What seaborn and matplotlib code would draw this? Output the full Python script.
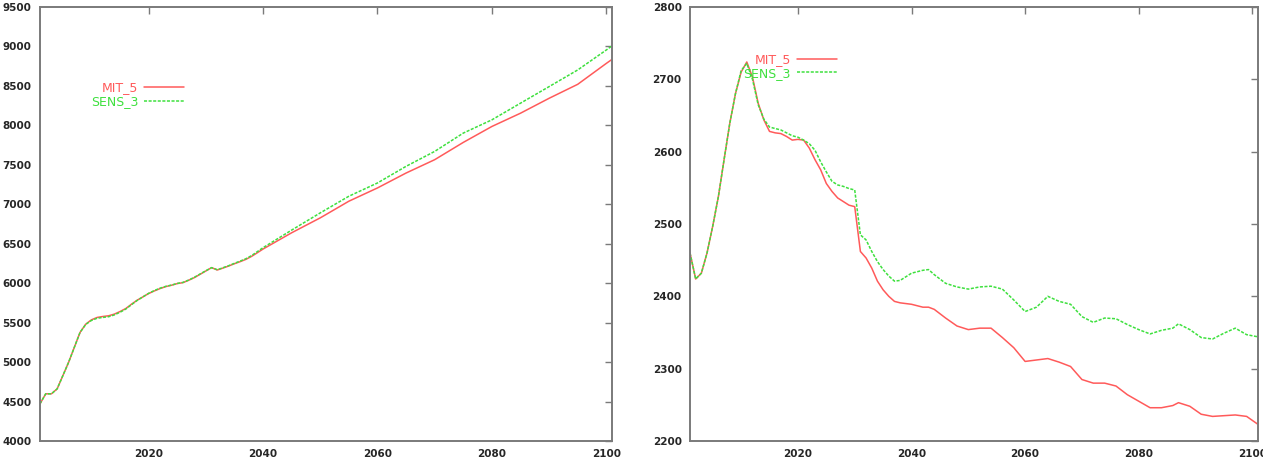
import matplotlib
matplotlib.use("Agg")
import matplotlib.pyplot as plt
import seaborn as sns
import pandas as pd

# ---------------- data: left panel ----------------
left_years = [2001, 2002, 2003, 2004, 2005, 2006, 2007, 2008, 2009, 2010,
              2011, 2012, 2013, 2014, 2015, 2016, 2017, 2018, 2019, 2020,
              2021, 2022, 2023, 2024, 2025, 2026, 2027, 2028, 2029, 2030,
              2031, 2032, 2033, 2034, 2035, 2036, 2037, 2038, 2039, 2040,
              2045, 2050, 2055, 2060, 2065, 2070, 2075, 2080, 2085, 2090,
              2095, 2100, 2101]
left_mit5 = [4471, 4598, 4598, 4661, 4829, 4997, 5187, 5376, 5481, 5536,
             5566, 5578, 5587, 5608, 5641, 5679, 5734, 5785, 5827, 5869,
             5902, 5932, 5957, 5974, 5995, 6007, 6037, 6071, 6113, 6155,
             6197, 6167, 6192, 6218, 6247, 6273, 6302, 6340, 6386, 6433,
             6639, 6828, 7039, 7207, 7396, 7565, 7784, 7986, 8154, 8343,
             8520, 8785, 8836]
left_sens3 = [4471, 4598, 4598, 4661, 4829, 4997, 5187, 5376, 5478, 5528,
              5556, 5566, 5575, 5598, 5632, 5672, 5728, 5782, 5827, 5872,
              5907, 5937, 5960, 5976, 5997, 6010, 6040, 6075, 6117, 6158,
              6197, 6170, 6196, 6222, 6252, 6280, 6310, 6350, 6400, 6450,
              6673, 6891, 7102, 7270, 7481, 7670, 7902, 8070, 8281, 8491,
              8702, 8955, 9008]

# ---------------- data: right panel ----------------
right_years = [2001, 2002, 2003, 2004, 2005, 2006, 2007, 2008, 2009, 2010,
               2011, 2012, 2013, 2014, 2015, 2016, 2017, 2018, 2019, 2020,
               2021, 2022, 2023, 2024, 2025, 2026, 2027, 2028, 2029, 2030,
               2031, 2032, 2033, 2034, 2035, 2036, 2037, 2038, 2040, 2042,
               2043, 2044, 2046, 2048, 2050, 2052, 2054, 2056, 2058, 2060,
               2062, 2064, 2066, 2068, 2070, 2072, 2074, 2076, 2078, 2080,
               2082, 2084, 2086, 2087, 2089, 2091, 2093, 2095, 2097, 2099,
               2101]
right_mit5 = [2460, 2424, 2432, 2460, 2497, 2538, 2589, 2639, 2680, 2710,
              2724, 2703, 2667, 2644, 2628, 2626, 2625, 2621, 2616, 2617,
              2616, 2605, 2589, 2575, 2556, 2545, 2536, 2531, 2526, 2524,
              2462, 2453, 2439, 2421, 2409, 2400, 2393, 2391, 2389, 2385,
              2385, 2382, 2370, 2359, 2354, 2356, 2356, 2343, 2329, 2310,
              2312, 2314, 2309, 2303, 2285, 2280, 2280, 2276, 2264, 2255,
              2246, 2246, 2249, 2253, 2248, 2237, 2234, 2235, 2236, 2234,
              2223]
right_sens3 = [2460, 2424, 2432, 2460, 2497, 2538, 2589, 2639, 2680, 2712,
               2722, 2700, 2665, 2645, 2634, 2632, 2630, 2626, 2622, 2620,
               2616, 2611, 2602, 2586, 2572, 2559, 2554, 2552, 2549, 2547,
               2485, 2478, 2462, 2448, 2437, 2428, 2421, 2422, 2432, 2436,
               2437, 2430, 2418, 2413, 2410, 2413, 2414, 2410, 2395, 2379,
               2385, 2400, 2393, 2389, 2372, 2364, 2370, 2369, 2361, 2354,
               2348, 2353, 2356, 2362, 2354, 2343, 2341, 2349, 2356, 2347,
               2344]

series_labels = ["MIT_5", "SENS_3"]
x_ticks = [2020, 2040, 2060, 2080, 2100]
left_yticks = [4000, 4500, 5000, 5500, 6000, 6500, 7000, 7500, 8000, 8500, 9000, 9500]
right_yticks = [2200, 2300, 2400, 2500, 2600, 2700, 2800]

RED = "#ff5a5a"
GREEN = "#3ee03e"

sns.set_theme(style="white")
plt.rcParams["font.family"] = ["DejaVu Sans"]

fig = plt.figure(figsize=(12.63, 4.63), dpi=100)
ax1 = fig.add_axes([40 / 1263, 22 / 463, 572 / 1263, 434 / 463])
ax2 = fig.add_axes([690 / 1263, 22 / 463, 568 / 1263, 434 / 463])


def draw(ax, years, a, b, yticks, ylim, legend_anchor):
    sns.lineplot(x=years, y=a, ax=ax, color=RED, linewidth=1.1,
                 label=series_labels[0])
    sns.lineplot(x=years, y=b, ax=ax, color=GREEN, linewidth=1.1,
                 linestyle=(0, (2, 1)), label=series_labels[1])
    ax.set_xlim(2001, 2101)
    ax.set_ylim(*ylim)
    ax.set_xticks(x_ticks)
    ax.set_yticks(yticks)
    ax.set_xlabel("")
    ax.set_ylabel("")
    for s in ax.spines.values():
        s.set_color("#7a7a7a")
        s.set_linewidth(1.4)
        s.set_visible(True)
    ax.tick_params(direction="in", length=5, width=1, color="#7a7a7a",
                   top=True, right=True, labelsize=7.5, pad=6)
    for lab in ax.get_xticklabels() + ax.get_yticklabels():
        lab.set_fontweight("bold")
    leg = ax.legend(loc="upper left", bbox_to_anchor=legend_anchor,
                    frameon=False, markerfirst=False, fontsize=9,
                    handlelength=3.2, handletextpad=0.5, labelspacing=0.05,
                    borderaxespad=0)
    for txt, col in zip(leg.get_texts(), [RED, GREEN]):
        txt.set_color(col)
    for t in leg.get_texts():
        t.set_ha("right")


draw(ax1, left_years, left_mit5, left_sens3, left_yticks, (4000, 9500), (0.08, 0.84))
draw(ax2, right_years, right_mit5, right_sens3, right_yticks, (2200, 2800), (0.085, 0.905))

fig.savefig("out.png", dpi=100)
